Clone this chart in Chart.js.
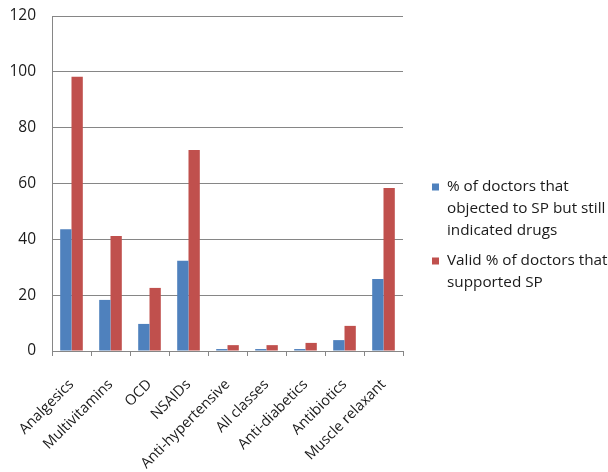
<!DOCTYPE html>
<html>
<head>
<meta charset="utf-8">
<script src="https://cdn.jsdelivr.net/npm/chart.js@4/dist/chart.umd.min.js"></script>
<style>
  html, body { margin: 0; padding: 0; background: #fff; }
  #wrap { width: 608px; height: 472px; position: relative; }
</style>
</head>
<body>
<div id="wrap"><canvas id="c" width="608" height="472"></canvas></div>
<script>
const categories = ['Analgesics', 'Multivitamins', 'OCD', 'NSAIDs', 'Anti-hypertensive',
  'All classes', 'Anti-diabetics', 'Antibiotics', 'Muscle relaxant'];
const objectedStillIndicated = [43.6, 18.3, 9.7, 32.3, 0.7, 0.7, 0.7, 3.9, 25.8];
const supportedSP = [98.2, 41.2, 22.6, 72.0, 2.1, 2.1, 2.9, 9.0, 58.4];
const seriesNames = [
  ['% of doctors that', 'objected to SP but still', 'indicated drugs'],
  ['Valid % of doctors that', 'supported SP']
];
const yTicks = [0, 20, 40, 60, 80, 100, 120];

const FONT = '"Open Sans", "Liberation Sans", sans-serif';
const AXIS_GREY = '#868686';
const TEXT = '#1a1a1a';

// Legend drawn beside the plot, with wrapped multi-line entries
const sideLegend = {
  id: 'sideLegend',
  afterDraw(chart) {
    const ctx = chart.ctx;
    const x0 = 432, textX = 447, lineH = 22;
    let y = 187;
    ctx.save();
    ctx.font = '15.3px ' + FONT;
    ctx.textBaseline = 'middle';
    chart.data.datasets.forEach((ds, i) => {
      ctx.fillStyle = ds.backgroundColor;
      ctx.fillRect(x0, y - 3.5, 7, 7);
      ctx.fillStyle = TEXT;
      seriesNames[i].forEach((line, j) => {
        ctx.fillText(line, textX, y + j * lineH);
      });
      y += (seriesNames[i].length - 1) * lineH + 30;
    });
    ctx.restore();
  }
};

new Chart(document.getElementById('c'), {
  type: 'bar',
  data: {
    labels: categories,
    datasets: [
      { label: seriesNames[0].join(' '), data: objectedStillIndicated, backgroundColor: '#4F81BD' },
      { label: seriesNames[1].join(' '), data: supportedSP, backgroundColor: '#C0504D' }
    ]
  },
  options: {
    responsive: false,
    animation: false,
    layout: { autoPadding: false, padding: { top: 16, right: 205, left: 0, bottom: 0 } },
    plugins: { legend: { display: false }, tooltip: { enabled: false } },
    datasets: { bar: { categoryPercentage: 0.58, barPercentage: 1.0 } },
    scales: {
      x: {
        grid: { drawOnChartArea: false, drawTicks: true, tickLength: 5, color: AXIS_GREY, offset: true },
        border: { color: AXIS_GREY },
        ticks: { color: TEXT, font: { family: FONT, size: 14.5 }, minRotation: 45, maxRotation: 45, padding: 20 },
        afterFit(s) { s.height = 121; s.paddingLeft = 0; s.paddingRight = 0; }
      },
      y: {
        min: 0, max: 120,
        afterBuildTicks(s) { s.ticks = yTicks.map(v => ({ value: v })); },
        grid: { color: AXIS_GREY, drawTicks: false },
        border: { color: AXIS_GREY },
        ticks: { color: TEXT, font: { family: FONT, size: 15.5 }, padding: 16 },
        afterFit(s) { s.width = 52; s.paddingTop = 0; s.paddingBottom = 0; }
      }
    }
  },
  plugins: [sideLegend]
});
</script>
</body>
</html>
